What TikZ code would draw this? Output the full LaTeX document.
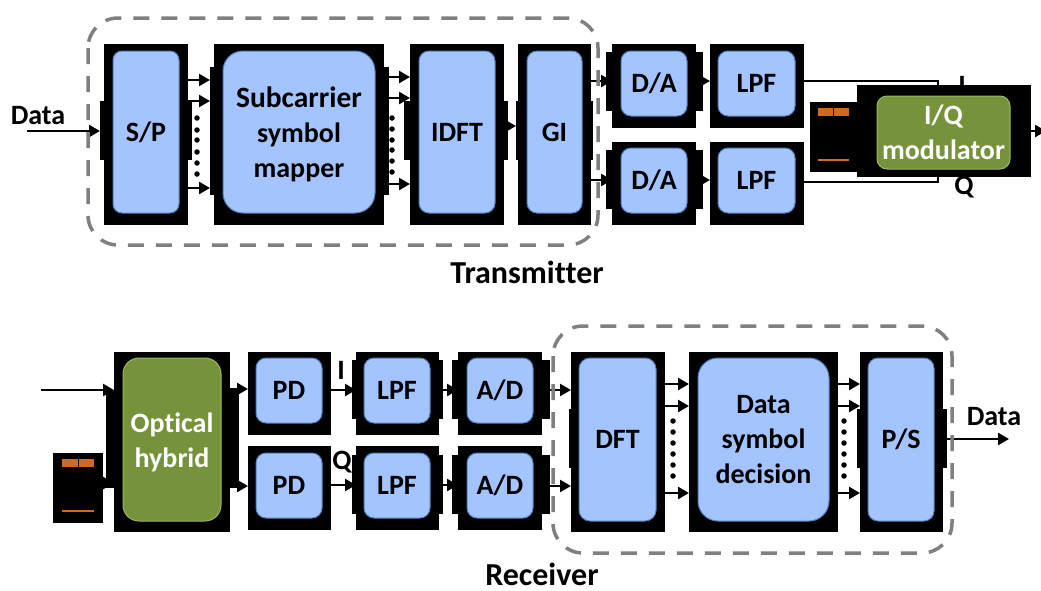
\documentclass[tikz,border=0pt]{standalone}
\usepackage{fontspec}
\setmainfont[Ligatures=NoCommon]{Carlito}
\usetikzlibrary{arrows.meta}
\definecolor{blk}{HTML}{A3C4FF}
\definecolor{bld}{HTML}{4F81BD}
\definecolor{grn}{HTML}{76933C}
\definecolor{grd}{HTML}{9BBB59}
\definecolor{org}{HTML}{D2691E}
\definecolor{dsh}{HTML}{808080}
\tikzset{
  x=1pt,y=-1pt,
  base/.style={inner sep=0pt,outer sep=0pt,align=center,font=\fontsize{28}{35}\selectfont\bfseries},
  shadow/.style={base,fill=black},
  block/.style={base,draw=bld,line width=1pt,fill=blk,rounded corners=#1},
  block/.default=10pt,
  gblock/.style={base,draw=grd,line width=1pt,fill=grn,text=white,rounded corners=#1},
  orange/.style={base,fill=org},
  arr/.style={line width=2.5pt,-{Triangle[length=11pt,width=12pt]}},
  wire/.style={line width=2pt},
  dashbox/.style={draw=dsh,line width=3.5pt,dash pattern=on 16pt off 12pt,rounded corners=30pt},
  lab/.style={base,inner sep=0pt},
  caption/.style={base,font=\fontsize{32}{36}\selectfont\bfseries},
  dotm/.style={circle,fill=black,inner sep=0pt,minimum size=5.5pt}
}
% style, name, x1, y1, x2, y2, text
\newcommand\bx[7]{\node[#1,minimum width={(#5-#3)*1pt},minimum height={(#6-#4)*1pt}] (#2) at ({(#3+#5)/2},{(#4+#6)/2}) {#7};}
\newcommand\dotcol[2]{\foreach \yy in {#2} {\node[dotm] at (#1,\yy) {};}}
\newcommand\topup[1]{\rule{0pt}{#1pt}}
\begin{document}
\begin{tikzpicture}
\useasboundingbox (0,0) rectangle (1041,590);
% labels partly covered
\node[lab] (ilab) at (962,85) {I};
\node[lab] (qlab) at (964,187) {Q};
\node[lab] (rilab) at (341,370) {I};
\node[lab] (rqlab) at (342,462) {Q};
% transmitter shadows
\bx{shadow}{sps}{104}{44}{188}{225}{}
\bx{shadow}{spl}{100}{101}{192}{160}{}
\bx{shadow}{maps}{214}{44}{384}{225}{}
\bx{shadow}{mapl}{210}{67}{389}{195}{}
\bx{shadow}{idfs}{410}{44}{504}{225}{}
\bx{shadow}{idfl}{404}{101}{508}{160}{}
\bx{shadow}{gis}{518}{44}{591}{225}{}
\bx{shadow}{gil}{516}{101}{593}{160}{}
\bx{shadow}{das}{612}{44}{696}{128}{}
\bx{shadow}{dal}{606}{52}{703}{111}{}
\bx{shadow}{dbs}{612}{142}{696}{225}{}
\bx{shadow}{dbl}{606}{150}{703}{209}{}
\bx{shadow}{las}{710}{44}{804}{128}{}
\bx{shadow}{lbs}{710}{142}{804}{225}{}
\bx{shadow}{los}{810}{102}{860}{172}{}
\bx{shadow}{iqs}{857}{85}{1031}{177}{}
% receiver shadows
\bx{shadow}{hys}{114}{352}{230}{532}{}
\bx{shadow}{hyl}{106}{390}{239}{488}{}
\bx{shadow}{rlos}{53}{453}{103}{523}{}
\bx{shadow}{pas}{248}{352}{331}{435}{}
\bx{shadow}{pbs}{248}{446}{331}{530}{}
\bx{shadow}{rlas}{356}{352}{439}{435}{}
\bx{shadow}{rlal}{352}{360}{443}{419}{}
\bx{shadow}{rlbs}{356}{446}{439}{530}{}
\bx{shadow}{rlbl}{352}{455}{443}{514}{}
\bx{shadow}{ads}{458}{352}{542}{435}{}
\bx{shadow}{adl}{452}{360}{550}{419}{}
\bx{shadow}{bds}{458}{446}{542}{530}{}
\bx{shadow}{bdl}{452}{455}{550}{514}{}
\bx{shadow}{dfs}{571}{352}{665}{532}{}
\bx{shadow}{dfl}{569}{409}{665}{468}{}
\bx{shadow}{des}{689}{352}{838}{532}{}
\bx{shadow}{pss}{860}{352}{943}{532}{}
\bx{shadow}{psl}{857}{409}{947}{468}{}
% connectors
\coordinate (din) at (27,131);
\coordinate (rin) at (41,390);
\coordinate (iqout) at (1046,131);
\coordinate (dout) at (1009,439);
\draw[arr] (din) -- (spl.west |- din);
\foreach \yy in {80,101,188} {\draw[arr] (sps.east |- 0,\yy) -- (mapl.west |- 0,\yy);}
\foreach \yy in {77,98,184} {\draw[arr] (maps.east |- 0,\yy) -- (idfs.west |- 0,\yy);}
\draw[arr] (idfl.east |- 0,126) -- (gil.west |- 0,126);
\draw[arr] (gis.east |- 0,81) -- (das.west |- 0,81);
\draw[arr] (gis.east |- 0,180) -- (dbs.west |- 0,180);
\draw[arr] (dal.east |- 0,81) -- (las.west |- 0,81);
\draw[arr] (dbl.east |- 0,180) -- (lbs.west |- 0,180);
\draw[wire,line width=1.5pt] (las.east |- 0,81) -| (938,85);
\draw[wire,line width=1.5pt] (lbs.east |- 0,182) -| (938,177);
\draw[arr] (iqs.east |- iqout) -- (iqout);
\draw[arr] (rin) -- (hys.west |- rin);
\draw[arr] (rlos.east |- 0,483) -- (hys.west |- 0,483);
\draw[arr] (hys.east |- 0,389) -- (pas.west |- 0,389);
\draw[arr] (hys.east |- 0,486) -- (pbs.west |- 0,486);
\draw[arr] (pas.east |- 0,390) -- (rlas.west |- 0,390);
\draw[arr] (pbs.east |- 0,485) -- (rlbs.west |- 0,485);
\draw[arr] (rlal.east |- 0,390) -- (ads.west |- 0,390);
\draw[arr] (rlbl.east |- 0,485) -- (bds.west |- 0,485);
\draw[arr] (adl.east |- 0,390) -- (dfs.west |- 0,390);
\draw[arr] (bdl.east |- 0,486) -- (dfs.west |- 0,486);
\foreach \yy in {384,406,493} {\draw[arr] (dfs.east |- 0,\yy) -- (des.west |- 0,\yy);}
\foreach \yy in {384,406,493} {\draw[arr] (des.east |- 0,\yy) -- (pss.west |- 0,\yy);}
\draw[arr] (psl.east |- dout) -- (dout);
% dots
\dotcol{197}{118,130,140,152,163,174}
\dotcol{392}{118,129,140,150,161,172}
\dotcol{673}{421,432,443,454,465,476}
\dotcol{844}{421,432,443,454,465,476}
% blocks
\bx{block=9pt}{sp}{113}{51}{179}{213}{S/P}
\bx{block=20pt}{map}{223}{51}{375}{213}{\fontsize{29.5}{35}\selectfont\topup{26}Subcarrier\\symbol\\mapper}
\bx{block=10pt}{idft}{419}{51}{495}{213}{IDFT}
\bx{block=10pt}{gi}{527}{51}{582}{213}{GI}
\bx{block=10pt}{da}{621}{51}{687}{116}{D/A}
\bx{block=10pt}{db}{621}{148}{687}{213}{D/A}
\bx{block=10pt}{la}{718}{51}{795}{116}{LPF}
\bx{block=10pt}{lb}{718}{148}{795}{213}{LPF}
\bx{gblock=10pt}{iq}{877}{96}{1010}{169}{I/Q\\modulator}
\bx{orange}{loa}{818}{108}{849}{116}{}
\bx{orange}{lob}{818}{159}{849}{161}{}
\draw[line width=.6pt] (loa.north) -- (loa.south);
\bx{gblock=16pt}{hy}{123}{358}{221}{521}{\topup{26}Optical\\hybrid}
\bx{orange}{rloa}{62}{459}{94}{467}{}
\bx{orange}{rlob}{62}{510}{94}{512}{}
\draw[line width=.6pt] (rloa.north) -- (rloa.south);
\bx{block=10pt}{pa}{256}{358}{322}{423}{PD}
\bx{block=10pt}{pb}{256}{453}{322}{518}{PD}
\bx{block=10pt}{rla}{364}{358}{430}{423}{LPF}
\bx{block=10pt}{rlb}{364}{453}{430}{518}{LPF}
\bx{block=10pt}{ada}{467}{358}{533}{423}{A/D}
\bx{block=10pt}{adb}{467}{453}{533}{518}{A/D}
\bx{block=11pt}{df}{579}{358}{656}{521}{DFT}
\bx{block=20pt}{de}{698}{358}{829}{521}{Data\\symbol\\decision}
\bx{block=10pt}{ps}{868}{358}{934}{521}{P/S}
% group outlines
\draw[dashbox] (88,18) rectangle (598,245);
\draw[dashbox] (553,326) rectangle (952,553);
% text labels
\node[lab] (dl) at (38,116) {Data};
\node[lab] (dr) at (994,417) {Data};
\node[caption] (tx) at (527,272) {Transmitter};
\node[caption] (rx) at (542,574) {Receiver};
\end{tikzpicture}
\end{document}
